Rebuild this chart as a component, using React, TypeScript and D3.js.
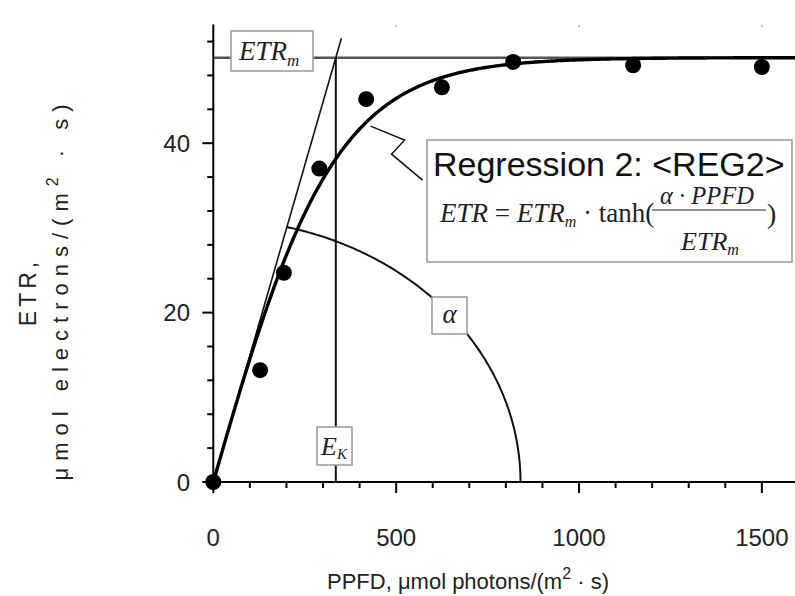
import React from "react";
import * as d3 from "d3";

// ---- data ----
const ppfd = [0, 128, 193, 290, 418, 625, 820, 1148, 1500];
const etr = [0, 13.2, 24.7, 37.0, 45.2, 46.6, 49.6, 49.2, 49.0];
const xMajorTicks = [0, 500, 1000, 1500];
const xMinorTicks = d3.range(0, 1600, 100);
const yMajorTicks = [0, 20, 40];
const yMinorTicks = d3.range(0, 54, 4);
const ETRm = 50.1;
const Ek = 335;
const alphaArcEnd = 840;
const alphaArcHeight = 31;

const W = 795;
const H = 596;

export default function App() {
  const x = d3.scaleLinear().domain([0, 1600]).range([213.3, 213.3 + 1600 * 0.3657]);
  const y = d3.scaleLinear().domain([0, 54]).range([482, 482 - 54 * 8.47]);
  const alpha = ETRm / Ek;

  const curvePts = d3.range(0, 1601, 5).map((v) => [v, ETRm * Math.tanh((alpha * v) / ETRm)]);
  const line = d3.line<number[]>().x((d) => x(d[0])).y((d) => y(d[1])).curve(d3.curveLinear);

  const theta0 = Math.atan((alpha * alphaArcEnd) / alphaArcHeight);
  const arcPts = d3.range(0, 201).map((i) => {
    const t = theta0 * (1 - i / 200);
    return [alphaArcEnd * Math.cos(t), alphaArcHeight * Math.sin(t)];
  });

  const tangentTop = 52.4;
  const sans = "'Liberation Sans', Arial, sans-serif";
  const serif = "'Liberation Serif', 'Times New Roman', serif";

  // pointer anchor on the curve
  const ax = 430;
  const apx = x(ax);
  const apy = y(ETRm * Math.tanh((alpha * ax) / ETRm));

  return (
    <svg width={W} height={H} style={{ position: "absolute", left: 0, top: 0, background: "#fff" }}>
      <rect x={0} y={0} width={W} height={H} fill="#fff" />
      {/* faint top marks */}
      {xMajorTicks.slice(1).map((t) => (
        <rect key={"tm" + t} x={x(t) - 1} y={y(54) + 0.5} width={2} height={2} fill="#bbb" />
      ))}

      {/* ETRm horizontal */}
      <line x1={x(0)} x2={W} y1={y(ETRm)} y2={y(ETRm)} stroke="#555" strokeWidth={2.5} />
      {/* Ek vertical */}
      <line x1={x(Ek)} x2={x(Ek)} y1={y(0)} y2={y(ETRm)} stroke="#111" strokeWidth={2} />
      {/* tangent */}
      <line x1={x(0)} y1={y(0)} x2={x(tangentTop / alpha)} y2={y(tangentTop)} stroke="#111" strokeWidth={1.6} />
      {/* alpha arc */}
      <path d={line(arcPts) || ""} fill="none" stroke="#111" strokeWidth={2} />
      {/* regression curve */}
      <path d={line(curvePts) || ""} fill="none" stroke="#000" strokeWidth={3.4} />

      {/* axes */}
      <line x1={x(0)} x2={x(0)} y1={y(0)} y2={y(54)} stroke="#000" strokeWidth={2} />
      <line x1={x(0)} x2={W} y1={y(0)} y2={y(0)} stroke="#000" strokeWidth={2} />
      {xMinorTicks.map((t) => (
        <line key={"xm" + t} x1={x(t)} x2={x(t)} y1={y(0)} y2={y(0) + (t % 500 === 0 ? 11 : 6)} stroke="#000" strokeWidth={2} />
      ))}
      {yMinorTicks.map((t) => (
        <line key={"ym" + t} x1={x(0)} x2={x(0) - (t % 20 === 0 ? 11 : 6)} y1={y(t)} y2={y(t)} stroke="#000" strokeWidth={2} />
      ))}
      {xMajorTicks.map((t) => (
        <text key={"xl" + t} x={x(t)} y={546} textAnchor="middle" fontFamily={sans} fontSize={24} fill="#222">
          {t}
        </text>
      ))}
      {yMajorTicks.map((t) => (
        <text key={"yl" + t} x={190} y={y(t) + 8.5} textAnchor="end" fontFamily={sans} fontSize={24} fill="#222">
          {t}
        </text>
      ))}

      {/* axis titles */}
      <text x={468} y={589} textAnchor="middle" fontFamily={sans} fontSize={22} fill="#222">
        PPFD, μmol photons/(m
        <tspan dy={-10} fontSize={16}>2</tspan>
        <tspan dy={10}> · s)</tspan>
      </text>
      <text transform="translate(36,292) rotate(-90)" textAnchor="middle" fontFamily={sans} fontSize={23} letterSpacing={4} fill="#222">
        ETR,
      </text>
      <text transform="translate(68,289) rotate(-90)" textAnchor="middle" fontFamily={sans} fontSize={22} letterSpacing={7} fill="#222">
        μmol electrons/(m
        <tspan dy={-10} fontSize={16}>2</tspan>
        <tspan dy={10}> · s)</tspan>
      </text>

      {/* dots */}
      {ppfd.map((p, i) => (
        <circle key={"d" + i} cx={x(p)} cy={y(etr[i])} r={8} fill="#000" />
      ))}

      {/* ETRm label */}
      <rect x={231} y={31} width={82} height={40} fill="#fff" stroke="#999" strokeWidth={1.5} />
      <text x={239} y={60} fontFamily={serif} fontStyle="italic" fontSize={27} fill="#222">
        ETR<tspan dy={6} fontSize={17}>m</tspan>
      </text>

      {/* Ek label */}
      <rect x={317} y={427} width={35} height={38} fill="#fff" stroke="#999" strokeWidth={1.5} />
      <text x={321} y={455} fontFamily={serif} fontStyle="italic" fontSize={26} fill="#222">
        E<tspan dy={4} fontSize={15}>K</tspan>
      </text>

      {/* alpha label */}
      <rect x={432} y={297} width={35} height={37} fill="#fff" stroke="#999" strokeWidth={1.5} />
      <text x={449.5} y={323} textAnchor="middle" fontFamily={serif} fontStyle="italic" fontSize={27} fill="#222">
        α
      </text>

      {/* pointer */}
      <polyline
        points={`${apx},${apy + 8} ${apx + 34},${apy + 22} ${apx + 21},${apy + 36} ${apx + 52},${apy + 62}`}
        fill="none"
        stroke="#111"
        strokeWidth={1.5}
      />

      {/* regression box */}
      <rect x={427} y={140} width={365} height={122} fill="#fff" stroke="#999" strokeWidth={1.5} />
      <text x={433} y={176} fontFamily={sans} fontSize={34} fill="#111">
        Regression 2: &lt;REG2&gt;
      </text>
      <text x={440} y={222} fontFamily={serif} fontSize={27} fill="#222">
        <tspan fontStyle="italic">ETR</tspan>
        <tspan> = </tspan>
        <tspan fontStyle="italic">ETR</tspan>
        <tspan dy={5} fontSize={16} fontStyle="italic">m</tspan>
        <tspan dy={-5}> · tanh(</tspan>
      </text>
      <text x={707} y={204} textAnchor="middle" fontFamily={serif} fontStyle="italic" fontSize={24.5} fill="#222">
        α · PPFD
      </text>
      <line x1={652} x2={766} y1={210} y2={210} stroke="#222" strokeWidth={1.2} />
      <text x={710} y={250} textAnchor="middle" fontFamily={serif} fontStyle="italic" fontSize={26} fill="#222">
        ETR<tspan dy={5} fontSize={16}>m</tspan>
      </text>
      <text x={767} y={223} fontFamily={serif} fontSize={28} fill="#222">
        )
      </text>
    </svg>
  );
}
